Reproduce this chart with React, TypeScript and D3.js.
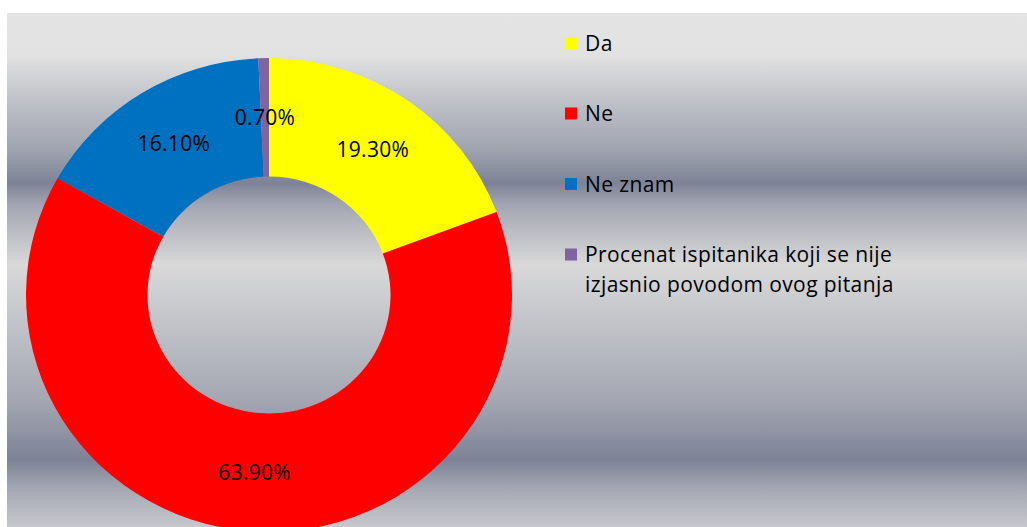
import React from 'react';
import * as d3 from 'd3';

const categories = ['Da', 'Ne', 'Ne znam', 'Procenat ispitanika koji se nije izjasnio povodom ovog pitanja'];
const legendLines = [['Da'], ['Ne'], ['Ne znam'], ['Procenat ispitanika koji se nije', 'izjasnio povodom ovog pitanja']];
const values = [19.3, 63.9, 16.1, 0.7];
const valueLabels = ['19.30%', '63.90%', '16.10%', '0.70%'];
const colors = ['#ffff00', '#ff0000', '#0070c0', '#8064a2'];

const W = 1027;
const H = 527;
const plot = { x: 7, y: 13 };
const cx = 269;
const cy = 295;
const rOuter = 243;
const rInner = 121.5;
const squash = 0.975; // the picture is slightly wider than tall

// background band colours of the plot area (top to bottom)
const bgStops: [number, string][] = [
  [13, '#e4e4e4'],
  [55, '#e2e2e2'],
  [100, '#c0c2c9'],
  [150, '#a0a4b0'],
  [183, '#7d8295'],
  [205, '#a3a6b2'],
  [265, '#d9d9d9'],
  [330, '#bfc1c7'],
  [400, '#a4a7b2'],
  [460, '#7d8296'],
  [490, '#a6a9b4'],
  [527, '#c7c8cd'],
];

const font = "'Open Sans', sans-serif";

export default function App() {
  const pie = d3.pie<number>().sort(null).value(d => d);
  const arcs = pie(values);
  const arc = d3.arc<d3.PieArcDatum<number>>().innerRadius(rInner).outerRadius(rOuter);

  const gy = d3.scaleLinear().domain([13, 527]).range([0, 1]);

  return (
    <svg width={W} height={H} style={{ position: 'absolute', left: 0, top: 0, display: 'block' }}>
      <defs>
        <linearGradient id="bg" gradientUnits="userSpaceOnUse" x1={0} x2={0} y1={13} y2={527}>
          {bgStops.map(([y, c], i) => (
            <stop key={i} offset={gy(y)} stopColor={c} />
          ))}
        </linearGradient>
      </defs>
      <rect x={0} y={0} width={W} height={H} fill="#ffffff" />
      <rect x={plot.x} y={plot.y} width={W - plot.x} height={H - plot.y} fill="url(#bg)" />

      <g transform={`translate(${cx},${cy}) scale(1,${squash})`}>
        {arcs.map((a, i) => (
          <path key={categories[i]} d={arc(a) || ''} fill={colors[i]} />
        ))}
      </g>

      {arcs.map((a, i) => {
        const [lx, ly] = arc.centroid(a);
        return (
          <text
            key={'l' + i}
            x={cx + lx}
            y={cy + ly * squash}
            dy="0.38em"
            textAnchor="middle"
            fontFamily={font}
            fontSize={21}
            letterSpacing={0.3}
            fill="#000"
          >
            {valueLabels[i]}
          </text>
        );
      })}

      <g transform="translate(565,43)">
        {legendLines.map((lines, i) => (
          <g key={'k' + i} transform={`translate(0,${i * 70.5})`}>
            <rect x={0} y={-6} width={12} height={12} fill={colors[i]} />
            {lines.map((t, j) => (
              <text key={j} x={20} y={j * 30} dy="0.36em" fontFamily={font} fontSize={21} letterSpacing={0.4} fill="#000">
                {t}
              </text>
            ))}
          </g>
        ))}
      </g>
    </svg>
  );
}
